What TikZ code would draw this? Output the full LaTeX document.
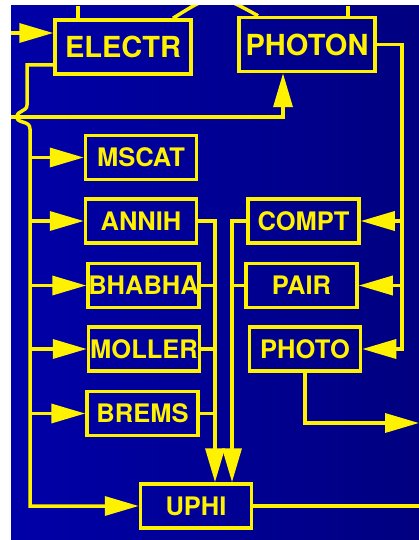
\documentclass[tikz,border=0pt]{standalone}
\usepackage{fontspec}
\setmainfont{TeX Gyre Heros}
\usetikzlibrary{arrows.meta,calc,positioning}
\definecolor{bgleft}{RGB}{0,0,168}
\definecolor{bgright}{RGB}{0,0,128}

\begin{document}
\begin{tikzpicture}[x=1pt,y=-1pt,
every node/.style={draw=yellow,line width=3.5pt,text=yellow,inner sep=0pt,
minimum width=111pt,minimum height=44pt,
font=\fontsize{25.5pt}{26pt}\selectfont\bfseries},
big/.style={minimum width=136pt,minimum height=54pt,
font=\fontsize{29pt}{29pt}\selectfont\bfseries},
wire/.style={yellow,line width=3.5pt},
arr/.style={wire,-{Triangle[length=34pt,width=19pt]}}]
\useasboundingbox (0,0) rectangle (419,540);
\shade[left color=bgleft,right color=bgright] (11,6) rectangle (419,540);
\clip (11,6) rectangle (419,540);
\node[big] (ELECTR) at (123,47) {ELECTR};
\node[big] (PHOTON) at (307,44.5) {PHOTON};
\node (MSCAT) at (141,157.5) {MSCAT};
\node (ANNIH) at (141,221) {ANNIH};
\node (BHABHA) at (143.5,285.5) {BHABHA};
\node (MOLLER) at (144,349) {MOLLER};
\node (BREMS) at (142.5,413.5) {BREMS};
\node (COMPT) at (303.5,221) {COMPT};
\node (PAIR) at (301.5,285.5) {PAIR};
\node (PHOTO) at (305,349) {PHOTO};
\node (UPHI) at (196,506) {UPHI};
\coordinate (inE) at (11,33);
\coordinate (inG) at (11,117);
\coordinate (topE) at (78,6);
\coordinate (topG) at (348,6);
\coordinate (arcE) at (173,0);
\coordinate (arcG) at (258,0);
\coordinate (hopE) at (27,65);
\coordinate (trunk) at (30,0);
\coordinate (upG) at (283,0);
\coordinate (feedG) at (402,0);
\coordinate (sumL) at (215,0);
\coordinate (sumR) at (232,0);
\coordinate (outP) at (419,423);
% top
\draw[arr] (inE) -- (inE -| ELECTR.west);
\draw[arr] (inG) -| (upG |- PHOTON.south);
\draw[wire] (topE) -- (topE |- ELECTR.north);
\draw[wire] (topG) -- (topG |- PHOTON.north);
\draw[wire] (arcE |- ELECTR.north) .. controls (215,-8) and (215,-8) .. (arcG |- PHOTON.north);
% electrons
\draw[arr] (hopE -| ELECTR.west) -- (hopE) -- (27,105) .. controls (27,112) and (17,110) .. (17,117)
  .. controls (17,124) and (30,120) .. (30,129) |- (UPHI.west);
\draw[arr] (trunk |- MSCAT.west) -- (MSCAT.west);
\draw[arr] (trunk |- ANNIH.west) -- (ANNIH.west);
\draw[arr] (trunk |- BHABHA.west) -- (BHABHA.west);
\draw[arr] (trunk |- MOLLER.west) -- (MOLLER.west);
\draw[arr] (trunk |- BREMS.west) -- (BREMS.west);
\draw[arr] (ANNIH.east) -| (sumL |- UPHI.north);
\draw[wire] (BHABHA.east) -- (BHABHA.east -| sumL);
\draw[wire] (MOLLER.east) -- (MOLLER.east -| sumL);
\draw[wire] (BREMS.east) -- (BREMS.east -| sumL);
% photons
\draw[arr] (PHOTON.east) -| (feedG |- PHOTO.east) -- (PHOTO.east);
\draw[arr] (feedG |- COMPT.east) -- (COMPT.east);
\draw[arr] (feedG |- PAIR.east) -- (PAIR.east);
\draw[arr] (COMPT.west) -| (sumR |- UPHI.north);
\draw[wire] (PAIR.west) -- (PAIR.west -| sumR);
\draw[arr] (PHOTO.south) |- (outP);
\draw[wire] (UPHI.east) -- (UPHI.east -| outP);
\end{tikzpicture}
\end{document}
